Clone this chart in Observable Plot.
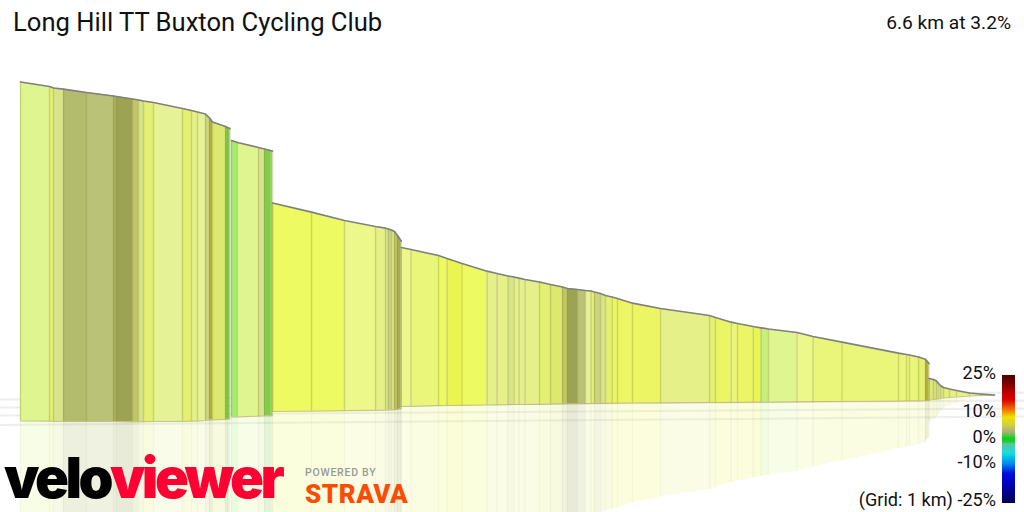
<!DOCTYPE html>
<html><head><meta charset="utf-8">
<script src="https://cdn.jsdelivr.net/npm/d3@7"></script>
<script src="https://cdn.jsdelivr.net/npm/@observablehq/plot@0.6"></script>
<style>
html,body{margin:0;padding:0;background:#fff;overflow:hidden}
#wrap{position:relative;width:1024px;height:512px;font-family:Roboto,sans-serif;color:#111}
#wrap svg{position:absolute;left:0;top:0}
.t{position:absolute;line-height:1;white-space:nowrap}
.t span{display:inline-block;line-height:1}
</style></head><body><div id="wrap"></div>
<script>
// Boundaries along the profile
const pos = [
  20,49,53,63,86,113,116,132,138,143,153,182,191,197,205,209,212,225,227,229.5,
  231,237,258,264,269,272,
  272,311,344,375,385,388,391,394,397,400.7,
  400.7,410.5,438,446.5,461.5,486.5,496.5,507.5,513.5,518.5,524.5,539,550,562,567,577,585,590.5,594,600,605,611.7,617,632,660,709,715,730.7,737,752.7,760.5,768,796.5,812.5,841.5,898,906,909,918,925,928.5,
  928.5,933,936,938,940,943,949,956,969,980,994];
const top_ = [
  81.5,86,87.5,88.7,92,95.5,96,98.5,99.5,100.5,102,108,110,111.5,113.5,117.5,121.5,126,127,128,
  140,142,147,148.5,149.8,150.5,
  202.5,211.7,220,226,227.7,228.5,229.5,231,235,240.5,
  247,249,255,258,263,270.7,273,275.5,276.5,277.7,279,281.5,284,286.5,288,289,290,290.5,291.5,293,295,296.5,298,302.7,308,315,317,321.7,323,326,327.3,328.5,332,336,341.7,352.7,354,354.5,356.5,358.8,363,
  378,379,380.5,383,385,387,388.5,390,392.5,393.5,394.5];
const base = [
  420.5,420.7,420.8,421,421,421,421,421.3,421.3,421.2,421,420.8,420.7,420.6,420,419.6,419.3,418.8,418.7,418.5,
  416.5,416.3,415.7,415.5,415.3,415.2,
  411,410.6,410.2,409.8,409.6,409.5,409.4,409.2,409,408.2,
  406,405.8,405.2,405,404.8,404.5,404.3,404.2,404,404,404,403.8,403.6,403.4,403.3,403.2,403.1,403,403,402.8,402.8,402.7,402.6,402.5,402.3,402,402,401.8,401.8,401.7,401.6,401.6,401.4,401.2,401,400.6,400.4,400.4,400.3,400.2,400,
  399.5,399,398.7,398.5,398,397.5,397,396.5,395.5,395,394.8];
// Gradient class of the stretch that starts at each boundary (null = break in the profile)
const shade = [
  "pale","maize","sage","olive2","olive1","olive3","olive4","moss","sage","maize","wash","maize","soft","wash","khaki","mustard","straw","green","green",null,
  "lime","pale","sage","green","fern",null,
  "bright","bright","cream","soft","sage","khaki","sage","moss","bronze",null,
  "cream","lemon","bright","sharp","bright","soft","soft","sage","soft","soft","soft","maize","straw","moss","olive4","olive1","wash","maize","khaki","sage","maize","citrus","citrus","citrus","soft","maize","citrus","lemon","citrus","sharp","spring","pale","cream","lemon","lemon","lemon","lemon","lemon","maize","mustard",null,
  "straw","sage","sage","maize","sage","maize","soft","soft","soft","lime",null];
const shadeNames = ["green","fern","lime","spring","pale","wash","cream","soft","sage","khaki","olive1","olive2","olive3","olive4","mustard","straw","maize","lemon","citrus","bright","sharp","moss","bronze"];
const shadeColors = ["#82cd50","#8fdc5e","#a4ec6e","#c6f077","#dff590","#e5f296","#edf88a","#e6f088","#d8e48c","#cdd580","#b9c277","#b3bb6c","#a9b15f","#9ca453","#b5b13c","#dde86e","#e4f073","#e9f67a","#ecf664","#eefa62","#ebf54f","#bec667","#a8ac55"];

// Faint ground grid
const gridLeft = [399,407,415,424.5];
const gridRight = [392,400,408,416];

// Colour key
const rampAt = [375,383,393,400,410,417,425,431,435,438,441,444,453,463,473,483,503];
const rampColors = ["#4a0000","#7a0000","#c00000","#e00000","#ee7a00","#f0e000","#d0d040","#b0b080","#60c050","#10d020","#10d020","#60c0a0","#10e0e0","#0090f0","#0010e0","#0000c0","#000050"];
const rampLeft = 1002, rampRight = 1015;

// Texts
const titleText = "Long Hill TT Buxton Cycling Club";
const summaryText = "6.6 km at 3.2%";
const keyLabels = ["25%","10%","0%","-10%","(Grid: 1 km) -25%"];

// Derived tables
let g = 0;
const nodes = pos.map((x,i)=>{ const row={x,top:top_[i],base:base[i],mirror:2*base[i]-top_[i],group:g}; if(shade[i]===null) g++; return row; });
const corners = [];
shade.forEach((s,i)=>{ if(s){ corners.push({...nodes[i],seg:i,shade:s},{...nodes[i+1],seg:i,shade:s}); } });
const rampColor = d3.scaleLinear().domain(rampAt).range(rampColors);
const strip = d3.range(rampAt[0],rampAt[rampAt.length-1]).map(y=>({y,color:rampColor(y+0.5)}));
const grid = gridLeft.flatMap((l,i)=>[{x:0,y:l,k:i},{x:1024,y:gridRight[i],k:i}]);

const chart = Plot.plot({
  width:1024,height:512,margin:0,
  style:{background:"transparent"},
  x:{domain:[0,1024],range:[0,1024],axis:null},
  y:{domain:[0,512],range:[0,512],axis:null},
  color:{type:"ordinal",domain:shadeNames,range:shadeColors},
  marks:[
    Plot.line(grid,{x:"x",y:"y",z:"k",stroke:"#eeeeee",strokeWidth:2}),
    Plot.area(corners,{x1:"x",y1:"base",y2:"mirror",z:"seg",fill:"shade",fillOpacity:0.22}),
    Plot.ruleX(nodes,{x:"x",y1:"base",y2:"mirror",stroke:"#8c8c3c",strokeOpacity:0.06,strokeWidth:1.5}),
    Plot.area(corners,{x1:"x",y1:"top",y2:"base",z:"seg",fill:"shade"}),
    Plot.ruleX(nodes,{x:"x",y1:"top",y2:"base",stroke:"#8c8c3c",strokeOpacity:0.32,strokeWidth:1.4}),
    Plot.line(nodes,{x:"x",y:"base",z:"group",stroke:"#9a9a3c",strokeOpacity:0.55,strokeWidth:1.2}),
    Plot.line(nodes,{x:"x",y:"top",z:"group",stroke:"#808080",strokeWidth:1.7}),
    Plot.rect(strip,{x1:()=>rampLeft,x2:()=>rampRight,y1:"y",y2:d=>d.y+1,fill:"color"})
  ]
});
const wrap = document.getElementById("wrap");
wrap.appendChild(chart);

function label(text,css){ const e=document.createElement("div"); e.className="t"; e.textContent=text; e.style.cssText=css; wrap.appendChild(e); return e; }
label(titleText,"left:13px;top:10px;font-size:25.6px;");
label(summaryText,"right:13px;top:13px;font-size:19.2px;");
const keyTops=[364,402,428,453,491];
keyLabels.forEach((t,i)=>label(t,`right:28px;top:${keyTops[i]}px;font-size:18.1px;`));
// Logos as text
const logo=label("","left:4px;top:450px;height:56px;font-size:56px;font-family:Inter,Roboto,sans-serif;font-weight:900;letter-spacing:-3.5px;");
logo.innerHTML='<span style="color:#000">velo</span><span style="color:#ff0033">viewer</span>';
label("POWERED BY","left:305px;top:468px;font-size:10.5px;font-weight:500;letter-spacing:0.75px;color:#999;");
label("STRAVA","left:305px;top:481px;font-size:26px;font-weight:900;letter-spacing:0.5px;color:#fc4c02;");
</script></body></html>
